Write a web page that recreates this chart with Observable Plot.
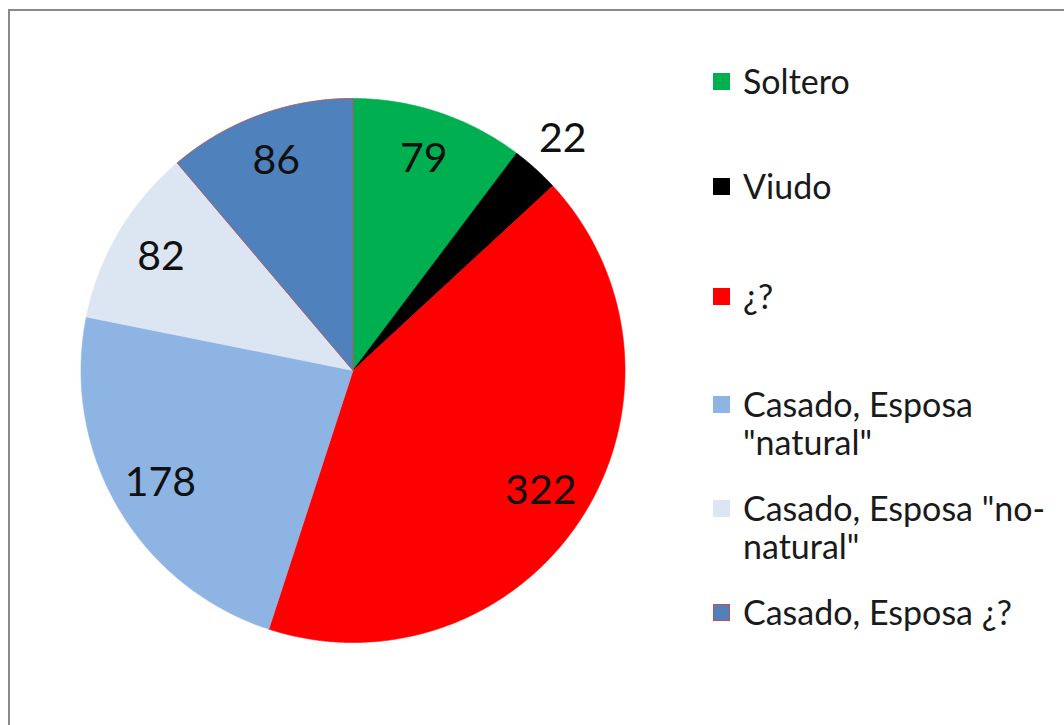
<!DOCTYPE html>
<html>
<head>
<meta charset="utf-8">
<script src="https://cdn.jsdelivr.net/npm/d3@7"></script>
<script src="https://cdn.jsdelivr.net/npm/@observablehq/plot@0.6"></script>
<style>
  html, body { margin: 0; padding: 0; background: #fff; overflow: hidden; }
  #wrap { position: relative; width: 1064px; height: 725px; overflow: hidden; font-family: Lato, "Open Sans", sans-serif; }
  #frame { position: absolute; left: 8px; top: 9px; width: 1200px; height: 900px; border-left: 2px solid #8a8a8a; border-top: 2px solid #8a8a8a; }
  #chart { position: absolute; left: 0; top: 0; }
  .item { position: absolute; left: 713px; display: flex; align-items: flex-start; }
  .sw { width: 17px; height: 17px; box-sizing: border-box; margin-top: 11px; flex: none; }
  .tx { margin-left: 13px; font-size: 34px; line-height: 38px; color: #1a1a1a; white-space: nowrap; }
</style>
</head>
<body>
<div id="wrap">
  <div id="frame"></div>
  <div id="chart"></div>
  <div id="legend"></div>
</div>
<script>
// ---- data ----
const categories = ["Soltero", "Viudo", "¿?", "Casado, Esposa \"natural\"", "Casado, Esposa \"no-natural\"", "Casado, Esposa ¿?"];
const values = [79, 22, 322, 178, 82, 86];
const colors = ["#00B050", "#000000", "#FF0000", "#8EB4E3", "#DCE6F2", "#4F81BD"];
const legendLines = [["Soltero"], ["Viudo"], ["¿?"], ["Casado, Esposa", "\"natural\""], ["Casado, Esposa \"no-", "natural\""], ["Casado, Esposa ¿?"]];

// ---- layout ----
const cx = 352.5, cy = 370, r = 272;
const legendCenters = [81, 186, 296, 404, 508, 612];

const arcs = d3.pie().sort(null).value(d => d)(values);
const pts = [];
arcs.forEach((a, i) => {
  const cat = categories[i];
  pts.push({cat, x: 0, y: 0});
  const n = Math.max(4, Math.ceil((a.endAngle - a.startAngle) / 0.005));
  for (let k = 0; k <= n; k++) {
    const t = a.startAngle + (a.endAngle - a.startAngle) * k / n;
    pts.push({cat, x: Math.sin(t), y: Math.cos(t)});
  }
  pts.push({cat, x: 0, y: 0});
});
const total = d3.sum(values);
const labels = arcs.map((a, i) => {
  const m = (a.startAngle + a.endAngle) / 2;
  const rl = values[i] / total < 0.05 ? 1.15 : 0.82;
  return {x: Math.sin(m) * rl, y: Math.cos(m) * rl, v: String(values[i])};
});
const outlineCat = categories[5];

const chart = Plot.plot({
  width: 1064, height: 725, margin: 0,
  style: {background: "transparent", overflow: "visible"},
  x: {domain: [-1, 1], range: [cx - r, cx + r], axis: null},
  y: {domain: [1, -1], range: [cy - r, cy + r], axis: null},
  color: {domain: categories, range: colors},
  marks: [
    Plot.line(pts, {x: "x", y: "y", z: "cat", fill: "cat", stroke: "cat", strokeWidth: 0.6, curve: "linear"}),
    Plot.line(pts.filter(d => d.cat === outlineCat), {x: "x", y: "y", stroke: "#C0504D", strokeWidth: 1, strokeOpacity: 0.8}),
    Plot.text(labels, {x: "x", y: "y", text: "v", fill: "#111", fontSize: 41, fontFamily: "Lato, 'Open Sans', sans-serif"})
  ]
});
document.getElementById("chart").appendChild(chart);

const legend = document.getElementById("legend");
categories.forEach((c, i) => {
  const item = document.createElement("div");
  item.className = "item";
  item.style.top = (legendCenters[i] - 19) + "px";
  const sw = document.createElement("div");
  sw.className = "sw";
  sw.style.background = colors[i];
  if (c === outlineCat) sw.style.border = "1px solid #C0504D";
  const tx = document.createElement("div");
  tx.className = "tx";
  tx.innerHTML = legendLines[i].map(s => s.replace(/&/g, "&amp;").replace(/</g, "&lt;")).join("<br>");
  item.appendChild(sw);
  item.appendChild(tx);
  legend.appendChild(item);
});
</script>
</body>
</html>
